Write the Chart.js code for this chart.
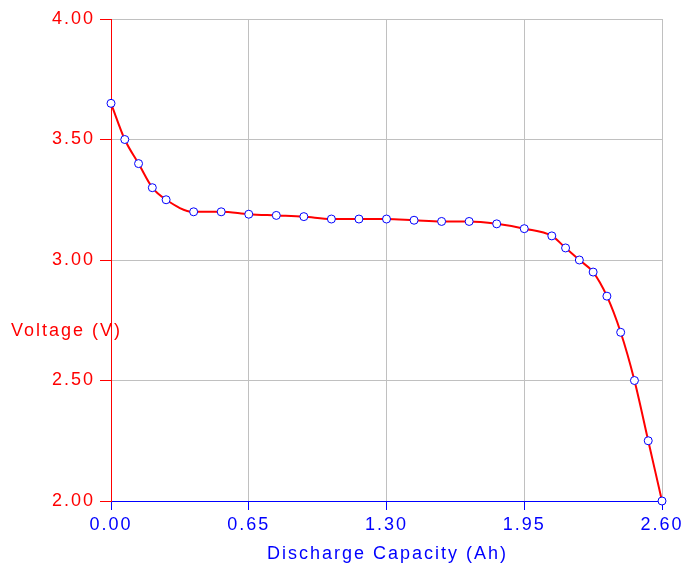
<!DOCTYPE html>
<html><head><meta charset="utf-8">
<script src="https://cdn.jsdelivr.net/npm/chart.js@4"></script>
<style>html,body{margin:0;padding:0;background:#fff}#wrap{width:685px;height:563px}</style>
</head><body><div id="wrap"><canvas id="c" width="685" height="563"></canvas></div>
<script>
const capacity = [0, 0.065, 0.13, 0.195, 0.26, 0.39, 0.52, 0.65, 0.78, 0.91, 1.04, 1.17, 1.30, 1.43, 1.56, 1.69, 1.82, 1.95, 2.08, 2.145, 2.21, 2.275, 2.34, 2.405, 2.47, 2.535, 2.60];
const voltage  = [3.65, 3.50, 3.40, 3.30, 3.25, 3.20, 3.20, 3.19, 3.185, 3.18, 3.17, 3.17, 3.17, 3.165, 3.16, 3.16, 3.15, 3.13, 3.10, 3.05, 3.00, 2.95, 2.85, 2.70, 2.50, 2.25, 2.00];
const xTicks = [0, 0.65, 1.30, 1.95, 2.60];
const yTicks = [2.00, 2.50, 3.00, 3.50, 4.00];
const xTitle = 'Discharge Capacity (Ah)';
const yTitle = 'Voltage (V)';

const FONT = 'Liberation Sans, Arial, sans-serif';
const letterSpace = {
  id: 'letterSpace',
  beforeDraw(chart) { chart.ctx.letterSpacing = '2px'; }
};
const titles = {
  id: 'titles',
  afterDraw(chart) {
    const ctx = chart.ctx, a = chart.chartArea;
    ctx.save();
    ctx.letterSpacing = '2px';
    ctx.font = '18px ' + FONT;
    ctx.textBaseline = 'alphabetic';
    ctx.fillStyle = '#0000ff';
    ctx.textAlign = 'center';
    ctx.fillText(xTitle, (a.left + a.right) / 2 + 1, 559);
    ctx.fillStyle = '#ff0000';
    ctx.textAlign = 'left';
    ctx.fillText(yTitle, 11, 336);
    ctx.restore();
  }
};

new Chart(document.getElementById('c'), {
  type: 'line',
  data: {
    datasets: [{
      data: capacity.map((x, i) => ({x, y: voltage[i]})),
      borderColor: '#ff0000',
      borderWidth: 2,
      cubicInterpolationMode: 'monotone',
      pointRadius: 4,
      pointBorderWidth: 1,
      pointBorderColor: '#0000ff',
      pointBackgroundColor: '#ffffff',
      clip: false
    }]
  },
  options: {
    responsive: false,
    animation: false,
    devicePixelRatio: 1,
    layout: { padding: { top: 19, right: 23, left: 0, bottom: 0 } },
    plugins: { legend: { display: false }, tooltip: { enabled: false } },
    scales: {
      x: {
        type: 'linear', min: 0, max: 2.6,
        afterBuildTicks(s) { s.ticks = xTicks.map(v => ({value: v})); },
        afterFit(s) { s.height = 62; },
        grid: { color: '#c0c0c0', lineWidth: 1, tickColor: '#0000ff', tickLength: 9 },
        border: { color: '#0000ff', width: 1 },
        ticks: { color: '#0000ff', font: { family: FONT, size: 18 }, padding: 4, maxRotation: 0,
                 callback: v => Number(v).toFixed(2) }
      },
      y: {
        type: 'linear', min: 2, max: 4,
        afterBuildTicks(s) { s.ticks = yTicks.map(v => ({value: v})); },
        afterFit(s) { s.width = 111; },
        grid: { color: '#c0c0c0', lineWidth: 1, tickColor: '#ff0000', tickLength: 11 },
        border: { color: '#ff0000', width: 1 },
        ticks: { color: '#ff0000', font: { family: FONT, size: 18 }, padding: 5,
                 callback: v => Number(v).toFixed(2) }
      }
    }
  },
  plugins: [letterSpace, titles]
});
</script>
</body></html>
